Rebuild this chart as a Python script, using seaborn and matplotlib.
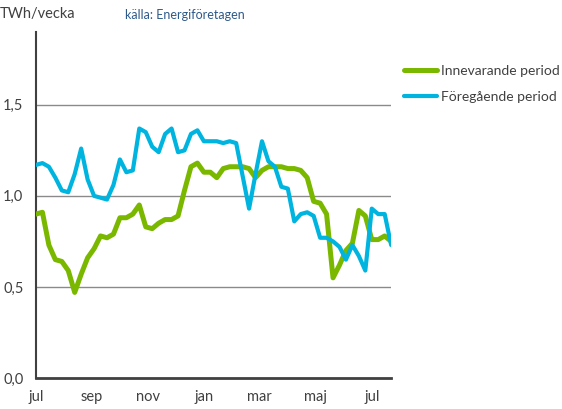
import numpy as np
import pandas as pd
import matplotlib
matplotlib.use("Agg")
import matplotlib.pyplot as plt
import seaborn as sns

# weekly values, TWh/vecka
innevarande = [0.90, 0.91, 0.73, 0.65, 0.64, 0.59, 0.47, 0.57, 0.66, 0.71,
               0.78, 0.77, 0.79, 0.88, 0.88, 0.90, 0.95, 0.83, 0.82, 0.85,
               0.87, 0.87, 0.89, 1.03, 1.16, 1.18, 1.13, 1.13, 1.10, 1.15,
               1.16, 1.16, 1.16, 1.15, 1.10, 1.14, 1.16, 1.16, 1.16, 1.15,
               1.15, 1.14, 1.10, 0.97, 0.96, 0.90, 0.55, 0.62, 0.70, 0.74,
               0.92, 0.89, 0.76, 0.76, 0.78, 0.75]
foregaende = [1.17, 1.18, 1.16, 1.10, 1.03, 1.02, 1.12, 1.26, 1.09, 1.00,
              0.99, 0.98, 1.06, 1.20, 1.13, 1.14, 1.37, 1.35, 1.27, 1.24,
              1.34, 1.37, 1.24, 1.25, 1.34, 1.36, 1.30, 1.30, 1.30, 1.29,
              1.30, 1.29, 1.11, 0.93, 1.12, 1.30, 1.19, 1.16, 1.05, 1.04,
              0.86, 0.90, 0.91, 0.89, 0.77, 0.77, 0.75, 0.72, 0.65, 0.73,
              0.67, 0.59, 0.93, 0.90, 0.90, 0.73]
month_labels = ["jul", "sep", "nov", "jan", "mar", "maj", "jul"]
y_ticks = [0.0, 0.5, 1.0, 1.5]

green = "#7ab800"
blue = "#00b4e0"

df = pd.DataFrame({
    "vecka": np.arange(len(innevarande)),
    "Innevarande period": innevarande,
    "Föregående period": foregaende,
})

sns.set_style("white")
plt.rcParams["font.family"] = ["Lato", "DejaVu Sans"]

fig = plt.figure(figsize=(5.62, 4.09), dpi=100)
ax = fig.add_axes([0.064, 0.0758, 0.632, 0.846])

sns.lineplot(data=df, x="vecka", y="Innevarande period", color=green,
             linewidth=3.6, ax=ax, label="Innevarande period", zorder=3)
sns.lineplot(data=df, x="vecka", y="Föregående period", color=blue,
             linewidth=3.0, ax=ax, label="Föregående period", zorder=3)

ax.set_xlim(0, len(innevarande) - 1)
ax.set_ylim(0, 1.9)
ax.set_xticks(np.linspace(0, 52, len(month_labels)))
ax.set_xticklabels(month_labels)
ax.set_yticks(y_ticks)
ax.set_yticklabels([f"{v:.1f}".replace(".", ",") for v in y_ticks])
ax.tick_params(axis="y", length=5, width=1, color="#404040", direction="out",
               labelsize=10.5, labelcolor="#404040", pad=4)
ax.tick_params(axis="x", length=0, labelsize=10.5, labelcolor="#404040", pad=9)
ax.set_xlabel("")
ax.set_ylabel("")

for v in y_ticks[1:]:
    ax.axhline(v, color="#8a8a8a", linewidth=1, zorder=1)

for side in ["top", "right"]:
    ax.spines[side].set_visible(False)
ax.spines["left"].set_color("#404040")
ax.spines["left"].set_linewidth(1.5)
ax.spines["bottom"].set_color("#404040")
ax.spines["bottom"].set_linewidth(2)

leg = ax.legend(loc="upper left", bbox_to_anchor=(1.02, 0.92), frameon=False,
                fontsize=10, handlelength=2.4, handletextpad=0.3,
                labelspacing=1.0, borderaxespad=0)
for t in leg.get_texts():
    t.set_color("#404040")

fig.text(0.0, 0.965, "TWh/vecka", fontsize=10.5, color="#404040",
         ha="left", va="center")
fig.text(0.222, 0.963, "källa: Energiföretagen", fontsize=9, color="#2e5a8a",
         ha="left", va="center")

fig.savefig("out.png", dpi=100)
